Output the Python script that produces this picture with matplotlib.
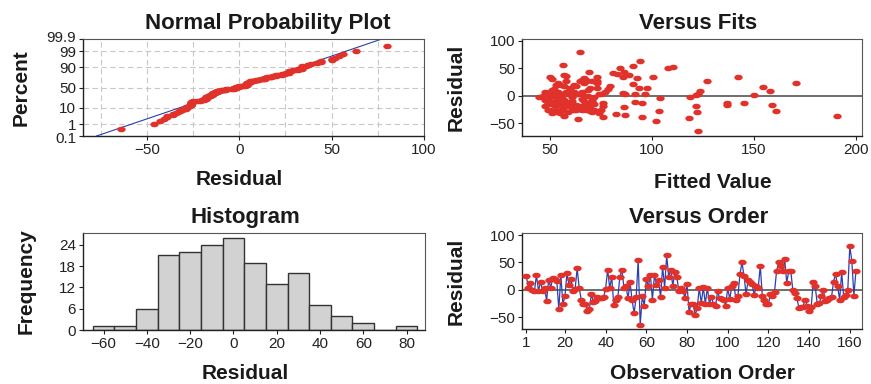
import numpy as np
import matplotlib
matplotlib.use("Agg")
import matplotlib.pyplot as plt
from matplotlib.path import Path
from matplotlib.transforms import Affine2D, ScaledTranslation
from statistics import NormalDist

plt.rcParams['font.family'] = ['Liberation Sans', 'DejaVu Sans']

residuals = [
    26, 4, 13, 0, -3, 27, -2, 14, -2, 3, -20, 18, 4, 21, 19, 16, -36, 27, -26, -12, 30, 8, 20, -3, 1, 39, 4, -18,
    -26, -26, -39, -36, -8, -23, -21, -13, -16, -16, -14, 2, 37, 3, 23, -28, -18, -14, 24, 36,
    4, 7, -16, 14, -19, -43, -14, 54, -64, -12, -29, 20, 6, 27, -18, 27, 9, 17, -14,
    42, 4, 63, 24, 37, 7, 32, 23, -3, 4, -2, -15, 10, -41, -26, -26, -46, -34, 4, -25,
    5, -26, 4, -26, -13, -27, -30, -3, -15, -17, -18, -29, 3, -17, 6, 12, -18, -12, 28,
    50, 26, -8, 17, 14, 10, -10, 6, 4, 44, -12, -19, -26, -27, -7, -11, -4, 34, 50, 44,
    34, 56, 13, 34, 34, -1, -6, -16, -33, -32, -31, -18, -29, -39, -32, 14, 6, -26, -25,
    -12, -1, -20, -18, -15, -14, 15, 29, 6, -18, 32, -14, -9, 0, 80, 52, -11, 34,
]

# fitted values, same order as residuals
fitted = [
    58, 122.7, 52, 47, 55, 68, 61, 73, 50, 66, 57, 79.7, 63, 90.8, 55, 154.5, 190.8, 71, 49, 91.6, 51, 158, 62, 53, 150, 83, 59, 67,
    72, 56, 95.3, 57, 48, 65, 69, 95.3, 159, 52, 60, 121.9, 89, 74, 54, 70, 121.6, 49, 67, 58,
    87, 50, 63, 93.6, 76, 64, 54, 90.8, 122.7, 71, 122, 53, 66, 127, 59, 65, 123.5, 57, 68,
    81, 51, 94.5, 170.6, 57, 62, 93, 73, 119, 91.6, 44.6, 58, 69, 118.3, 75, 53, 102, 87, 64, 61,
    86, 66, 56, 50, 136.8, 103.8, 53, 72, 49, 62, 70, 59, 96.5, 55, 77, 78.5, 65, 52, 68,
    84.7, 73, 57, 63, 97.7, 51, 67, 54, 75, 86.4, 60, 48, 63, 161, 71, 56, 104, 86, 107.9, 69.2,
    100.6, 56.5, 60, 50, 73, 52, 66, 136.8, 82.6, 51, 74, 58, 71, 76, 55, 70, 48, 62, 68,
    54, 69, 86.4, 64, 72, 145, 60, 66, 58, 53, 67, 76, 61, 56, 64.8, 110.3, 50, 142.5,
]

prob_ticks = [0.1, 1, 10, 50, 90, 99, 99.9]
prob_labels = ['0.1', '1', '10', '50', '90', '99', '99.9']
hist_edges = list(range(-65, 86, 10))
order_ticks = [1, 20, 40, 60, 80, 100, 120, 140, 160]

red = '#e0322a'
blue = '#2a3fb0'
ellipse = Path.unit_circle().transformed(Affine2D().scale(1.0, 0.6))

res = np.array(residuals, dtype=float)
fit = np.array(fitted, dtype=float)
n = len(res)
nd = NormalDist()

fig = plt.figure(figsize=(8.71, 3.84), dpi=100)
ax1 = fig.add_axes([0.0953, 0.6458, 0.3915, 0.2526])
ax2 = fig.add_axes([0.5993, 0.6458, 0.3904, 0.2526])
ax3 = fig.add_axes([0.0953, 0.1406, 0.3926, 0.2526])
ax4 = fig.add_axes([0.5993, 0.1432, 0.3904, 0.2500])


def style(ax):
    for s in ['left', 'bottom']:
        ax.spines[s].set_color('#222222')
        ax.spines[s].set_linewidth(1.0)
    for s in ['top', 'right']:
        ax.spines[s].set_color('#555555')
        ax.spines[s].set_linewidth(0.8)
    ax.tick_params(labelsize=11, length=3, width=0.8, direction='out', pad=2, colors='#222222')


def titles(ax, title, tx, xlabel, lx, ly, ylabel, yx):
    ax.text(tx, 1.10, title, transform=ax.transAxes, ha='center', va='baseline',
            fontsize=16, fontweight='bold', color='#1a1a1a')
    ax.set_xlabel(xlabel, fontsize=15, fontweight='bold', color='#1a1a1a')
    ax.xaxis.set_label_coords(lx, ly)
    ax.set_ylabel(ylabel, fontsize=15, fontweight='bold', color='#1a1a1a')
    ax.yaxis.set_label_coords(yx, 0.5)


# normal probability plot
srt = np.sort(res)
pp = (np.arange(1, n + 1) - 0.3) / (n + 0.4)
zz = np.array([nd.inv_cdf(p) for p in pp])
zlo, zhi = nd.inv_cdf(0.001), nd.inv_cdf(0.999)
mu, sd = res.mean(), res.std(ddof=1)
for g in np.arange(-75, 101, 25):
    ax1.axvline(g, color='#c8c8c8', lw=0.8, ls=(0, (5, 3)), zorder=0)
for p in prob_ticks[1:-1]:
    ax1.axhline(nd.inv_cdf(p / 100), color='#c8c8c8', lw=0.8, ls=(0, (5, 3)), zorder=0)
ax1.plot([mu + sd * zlo, mu + sd * zhi], [zlo, zhi], color=blue, lw=0.8, zorder=2)
ax1.plot(srt, zz, ls='none', marker=ellipse, ms=5, color=red, mec=red, zorder=3)
ax1.set_xlim(-84.6, 100)
ax1.set_ylim(zlo, zhi)
ax1.set_xticks([-50, 0, 50, 100])
ax1.set_yticks([nd.inv_cdf(p / 100) for p in prob_ticks])
ax1.set_yticklabels(prob_labels)
style(ax1)
# nudge the crowded end labels apart a little
ylabs = ax1.get_yticklabels()
ylabs[-1].set_transform(ylabs[-1].get_transform() + ScaledTranslation(0, 2 / 72, fig.dpi_scale_trans))
ylabs[0].set_transform(ylabs[0].get_transform() + ScaledTranslation(0, -1 / 72, fig.dpi_scale_trans))
titles(ax1, 'Normal Probability Plot', 0.543, 'Residual', 0.457, -0.35, 'Percent', -0.155)

# versus fits
ax2.axhline(0, color='#555555', lw=1.2, zorder=1)
ax2.plot(fit, res, ls='none', marker=ellipse, ms=5, color=red, mec=red, zorder=3)
ax2.set_xlim(36.5, 203)
ax2.set_ylim(-73, 103)
ax2.set_xticks([50, 100, 150, 200])
ax2.set_yticks([-50, 0, 50, 100])
style(ax2)
titles(ax2, 'Versus Fits', 0.518, 'Fitted Value', 0.56, -0.38, 'Residual', -0.165)

# histogram
ax3.hist(res, bins=hist_edges, color='#d2d2d2', edgecolor='#333333', linewidth=1.0, zorder=2)
ax3.set_xlim(-69.5, 88.5)
ax3.set_ylim(0, 27.3)
ax3.set_xticks(list(range(-60, 81, 20)))
ax3.set_yticks([0, 6, 12, 18, 24])
style(ax3)
titles(ax3, 'Histogram', 0.474, 'Residual', 0.474, -0.35, 'Frequency', -0.14)

# versus order
obs = np.arange(1, n + 1)
ax4.axhline(0, color='#555555', lw=1.2, zorder=1)
ax4.plot(obs, res, color=blue, lw=0.9, zorder=2)
ax4.plot(obs, res, ls='none', marker=ellipse, ms=5, color=red, mec=red, zorder=3)
ax4.set_xlim(-1.1, 166)
ax4.set_ylim(-72, 104)
ax4.set_xticks(order_ticks)
ax4.set_yticks([-50, 0, 50, 100])
style(ax4)
titles(ax4, 'Versus Order', 0.518, 'Observation Order', 0.53, -0.36, 'Residual', -0.165)

fig.savefig('out.png', dpi=100)
